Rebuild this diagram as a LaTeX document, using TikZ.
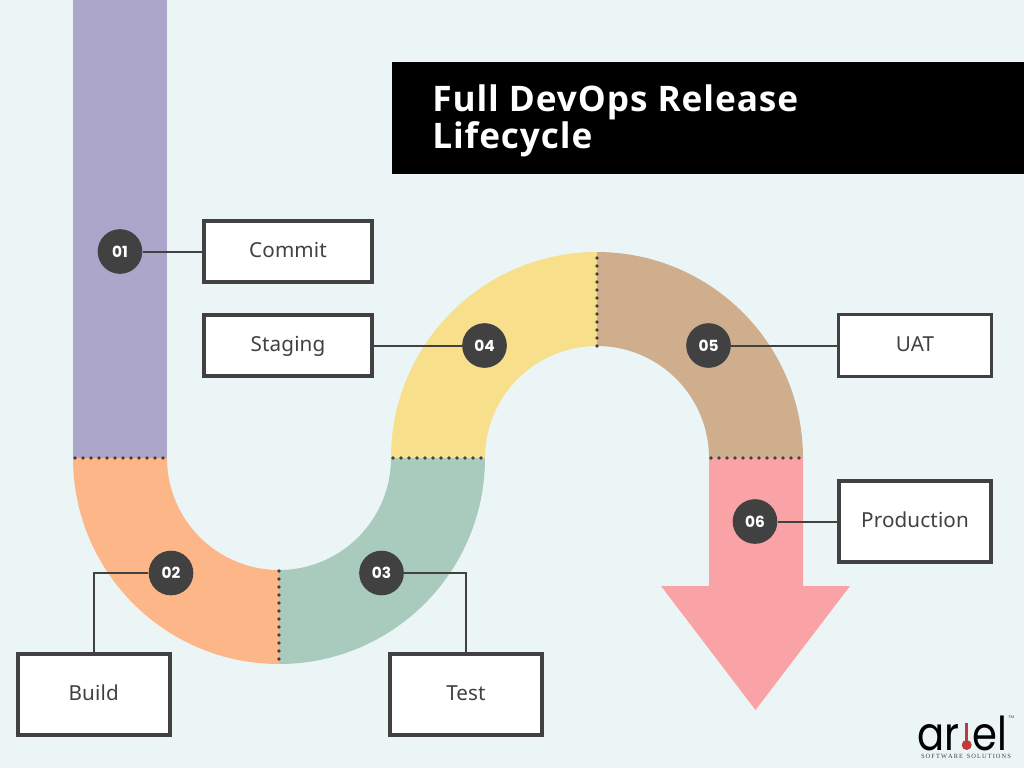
\documentclass[tikz,border=0pt]{standalone}
\usepackage{fontspec}
\setmainfont[LetterSpace=0.6]{Noto Sans}
\newfontfamily\titlefont[LetterSpace=2.6]{Open Sans}
\newfontfamily\badgefont{Poppins}
\newfontfamily\logofont{Poppins}
\newfontfamily\logoserif{Liberation Serif}
\definecolor{bgc}{HTML}{EBF5F6}
\definecolor{dark}{HTML}{414141}
\definecolor{purple1}{HTML}{ADA6CB}
\definecolor{orange1}{HTML}{FDB688}
\definecolor{green1}{HTML}{A9CBBD}
\definecolor{yellow1}{HTML}{F7DF8C}
\definecolor{tan1}{HTML}{CFAE8D}
\definecolor{pink1}{HTML}{FAA3A7}
\definecolor{logored}{HTML}{C0393B}
\tikzset{
  x=0.75pt,y=0.75pt,
  label box/.style={draw=dark,fill=white,inner sep=0pt,text=dark,text height=9.6pt,text depth=0pt,font=\fontsize{15.5}{18}\selectfont},
  badge/.style={circle,fill=dark,minimum size=33.5pt,inner sep=0pt,text=white,font=\badgefont\bfseries\fontsize{11.5}{14}\selectfont},
  link/.style={draw=dark,line width=1.5pt},
  seam/.style={draw=dark,line width=2.7pt,line cap=round,dash pattern=on 0pt off 6pt},
  title text/.style={anchor=base west,text=white,font=\titlefont\bfseries\fontsize{26.4}{28}\selectfont,inner sep=0pt},
  logo text/.style={anchor=base west,inner sep=0pt,text=black,xscale=0.86,font=\logofont\fontsize{35}{35}\selectfont},
}
\newcommand{\ringpart}[4]{% colour, centre, start angle, end angle
  \fill[#1] ([shift={(#3:154.5pt)}]#2) arc[start angle=#3,end angle=#4,radius=154.5pt]
    -- ([shift={(#4:84pt)}]#2) arc[start angle=#4,end angle=#3,radius=84pt] -- cycle;}
\begin{document}
\begin{tikzpicture}
\useasboundingbox (0,-768) rectangle (1024,0);
\fill[bgc] (0,-768) rectangle (1024,0);
\coordinate (cl) at (279,-458);
\coordinate (cr) at (597,-458);
% ribbon
\fill[purple1] (73,-458) rectangle (167,0);
\ringpart{orange1}{cl}{180}{270}
\ringpart{green1}{cl}{270}{360}
\ringpart{yellow1}{cr}{90}{180}
\ringpart{tan1}{cr}{0}{90}
\fill[pink1] (709,-458) -- (803,-458) -- (803,-586) -- (850,-586) -- (755.5,-710) -- (661,-586) -- (709,-586) -- cycle;
% seams
\coordinate (s1a) at (75,-458); \coordinate (s1b) at (167,-458);
\coordinate (s2a) at (279,-571); \coordinate (s2b) at (279,-664);
\coordinate (s3a) at (393,-458); \coordinate (s3b) at (485,-458);
\coordinate (s4a) at (597,-254); \coordinate (s4b) at (597,-346);
\coordinate (s5a) at (711,-458); \coordinate (s5b) at (803,-458);
\draw[seam] (s1a) -- (s1b);
\draw[seam] (s2a) -- (s2b);
\draw[seam] (s3a) -- (s3b);
\draw[seam] (s4b) -- (s4a);
\draw[seam] (s5a) -- (s5b);
% title
\fill[black] (392,-174) rectangle (1024,-62);
\node[title text] (t1) at (432,-111) {Full DevOps Release};
\node[title text] (t2) at (432,-148) {Lifecycle};
% label boxes
\node[label box,line width=3pt,minimum width=125.5pt,minimum height=45.5pt] (commit) at (288,-251.5) {Commit};
\node[label box,line width=3pt,minimum width=125.5pt,minimum height=45.5pt] (staging) at (288,-345.5) {Staging};
\node[label box,line width=2.3pt,minimum width=114.5pt,minimum height=47pt] (uat) at (915,-345.5) {UAT};
\node[label box,line width=3pt,minimum width=114.5pt,minimum height=61pt] (prod) at (915,-521.5) {Production};
\node[label box,line width=3pt,minimum width=114pt,minimum height=61pt] (build) at (93.7,-694.5) {Build};
\node[label box,line width=3pt,minimum width=114pt,minimum height=61pt] (test) at (466,-694.5) {Test};
% badges
\node[badge] (b1) at (120,-251.5) {01};
\node[badge] (b2) at (171,-573) {02};
\node[badge] (b3) at (381.5,-573) {03};
\node[badge] (b4) at (484.5,-345.5) {04};
\node[badge] (b5) at (708.5,-345.5) {05};
\node[badge] (b6) at (755,-521.5) {06};
% links
\draw[link] (b1) -- (commit);
\draw[link] (b4) -- (staging);
\draw[link] (b5) -- (uat);
\draw[link] (b6) -- (prod);
\draw[link] (b2) -| (build);
\draw[link] (b3) -| (test);
% logo
\node[logo text] (la) at (917,-750) {ar};
\fill[logored] (965.2,-723) rectangle (968.2,-743);
\fill[logored] (966.7,-745) circle[radius=5];
\node[logo text] (le) at (972,-750) {el};
\node[anchor=base,inner sep=0pt,text=black!75,font=\logoserif\fontsize{4.8}{5}\selectfont] (ls) at (966,-758.5) {S\,O\,F\,T\,W\,A\,R\,E\, \,S\,O\,L\,U\,T\,I\,O\,N\,S};
\node[anchor=base west,inner sep=0pt,text=black!75,font=\logoserif\fontsize{3}{3}\selectfont] (lt) at (1008,-718) {TM};
\end{tikzpicture}
\end{document}
